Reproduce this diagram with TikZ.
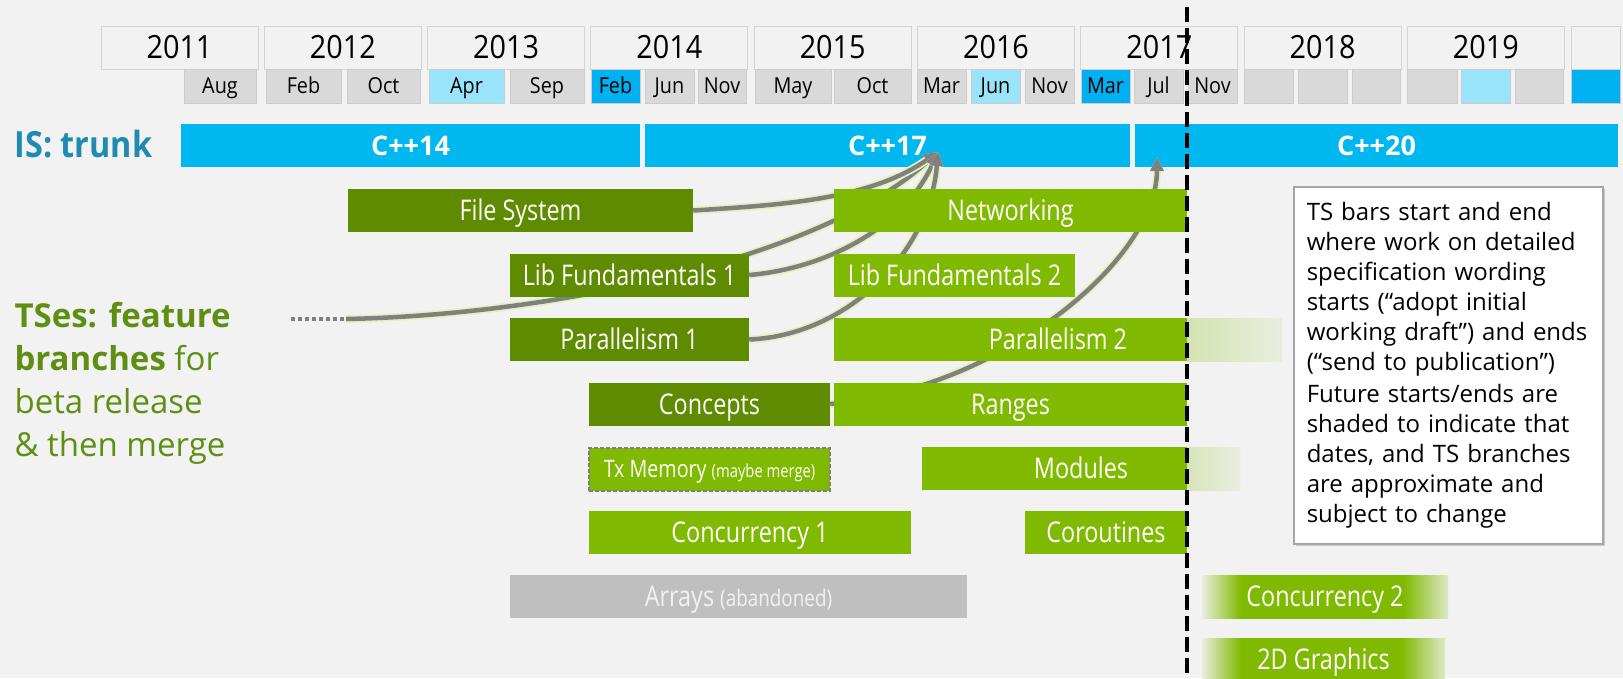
\documentclass[tikz,border=0pt]{standalone}
\usepackage{fontspec}
\setmainfont{Open Sans}
\newfontfamily\barfont[FakeStretch=0.82]{Open Sans}
\newfontfamily\yearfont[FakeStretch=0.9]{Open Sans}
\usetikzlibrary{arrows.meta}
\usetikzlibrary{shadows}

\definecolor{bgcol}{HTML}{F2F2F2}
\definecolor{trunkblue}{HTML}{00B7EF}
\definecolor{monthblue}{HTML}{00B0F0}
\definecolor{monthlite}{HTML}{99E4FA}
\definecolor{monthgray}{HTML}{D9D9D9}
\definecolor{darkgreen}{HTML}{5E8B00}
\definecolor{litegreen}{HTML}{80BA00}
\definecolor{abandongray}{HTML}{BFBFBF}
\definecolor{tstext}{HTML}{5F8F12}
\definecolor{istext}{HTML}{1F8BB0}
\definecolor{linkgray}{HTML}{808080}
\definecolor{glow}{HTML}{E6F2BE}
\colorlet{palegreen}{litegreen!8!bgcol}
\colorlet{fadegreen}{litegreen!18!bgcol}

\pgfdeclarehorizontalshading{bothfade}{100bp}{color(0bp)=(palegreen); color(25bp)=(palegreen);
  color(33bp)=(litegreen); color(66bp)=(litegreen); color(75bp)=(fadegreen); color(100bp)=(fadegreen)}

\pgfdeclarelayer{back}
\pgfdeclarelayer{links}
\pgfsetlayers{back,links,main}

\newcommand{\fsz}[2]{\fontsize{#1}{#2}\selectfont}

\tikzset{
  yearbox/.style={draw=black!17, fill=bgcol, line width=1, minimum width=157, minimum height=43, inner sep=0, text height=22.5, text depth=0, font=\yearfont\fsz{32}{36}},
  monthbox/.style={draw=black!20, line width=1, minimum height=34, inner sep=0, text height=15.5, text depth=0, font=\yearfont\fsz{22}{25}},
  trunkbar/.style={fill=trunkblue, minimum height=43, inner sep=0, text=white, text height=19, text depth=0, font=\bfseries\fsz{27}{30}},
  tsbar/.style={minimum height=43, inner sep=0, text=white, text height=20.5, text depth=0, font=\barfont\fsz{28.5}{34}},
  darkbar/.style={tsbar, fill=darkgreen},
  litebar/.style={tsbar, fill=litegreen},
  fadeR/.style={path picture={\shade[left color=litegreen, right color=palegreen] ([xshift=-#1]path picture bounding box.south east) rectangle (path picture bounding box.north east);}},
  fadebar/.style={tsbar, shade, shading=bothfade},
  link/.style={draw=linkgray, line width=4.5, -{Triangle[length=14pt,width=13pt]}, preaction={draw=glow, line width=8}},
  notebox/.style={draw=black!35, fill=white, line width=1.5, text width=283, inner xsep=13, inner ysep=0, minimum height=357, align=left, font=\fsz{24}{30}, drop shadow={shadow xshift=2pt, shadow yshift=-2pt, opacity=0.35}}
}

\begin{document}
\begin{tikzpicture}[x=1pt,y=-1pt]
	\begin{pgfonlayer}{back}
		\fill[bgcol] (0,0) rectangle (1623,678);
		\node[trunkbar, minimum width=459] (c14) at (410.5,145.5) {C++14};
		\node[trunkbar, minimum width=485] (c17) at (887.5,145.5) {C++17};
		\node[trunkbar, minimum width=483] (c20) at (1376.5,145.5) {C++20};
	\end{pgfonlayer}
	\useasboundingbox (0,0) rectangle (1623,678);
	
	\foreach \yr [count=\i from 0] in {2011,...,2019}
		\node[yearbox] (y\yr) at ({179.5+163.3*\i},47.5) {\yr};
	\node[yearbox, minimum width=49] (y2020) at (1595.5,47.5) {};
	\foreach \a/\b/\mo/\col [count=\i] in {184/256/Aug/monthgray, 266/341/Feb/monthgray, 347/420/Oct/monthgray,
			429/504/Apr/monthlite, 510/584/Sep/monthgray, 591/640/Feb/monthblue, 645/694/Jun/monthgray,
			698/746/Nov/monthgray, 755/831/May/monthgray, 834/911/Oct/monthgray, 917/966/Mar/monthgray,
			971/1020/Jun/monthlite, 1025/1074/Nov/monthgray, 1081/1130/Mar/monthblue, 1134/1183/Jul/monthgray,
			1188/1237/Nov/monthgray, 1244/1293//monthgray, 1298/1347//monthgray, 1352/1400//monthgray,
			1407/1457//monthgray, 1461/1510//monthlite, 1515/1563//monthgray, 1571/1620//monthblue}
		\node[monthbox, fill=\col, minimum width={\b-\a}] (mo\i) at ({(\a+\b)/2},86) {\mo};
	
	\node[anchor=base west, text=istext, font=\yearfont\bfseries\fsz{36}{40}] (trunk) at (11,157) {IS: trunk};
	\node[anchor=base west, align=left, text=tstext, font=\fsz{33}{43}] (tses) at (11,456)
		{\textbf{TSes: feature}\\\textbf{branches} for\\beta release\\\& then merge};
	
	\node[darkbar, minimum width=345] (fs) at (520.5,210.5) {File System};
	\node[darkbar, minimum width=239] (lf1) at (629.5,275) {Lib Fundamentals 1};
	\node[darkbar, minimum width=239] (par1) at (629.5,339.5) {Parallelism 1};
	\node[darkbar, minimum width=241] (con) at (709.5,404) {Concepts};
	\node[litebar, minimum width=353] (net) at (1010.5,210.5) {Networking};
	\node[litebar, minimum width=241] (lf2) at (954.5,275) {Lib Fundamentals 2};
	\node[litebar, fadeR=95, minimum width=448] (par2) at (1058,339.5) {Parallelism 2};
	\node[litebar, minimum width=353] (rng) at (1010.5,404) {Ranges};
	\node[litebar, draw=linkgray, line width=2, dash pattern=on 4pt off 2pt, minimum width=241, text height=17,
		font=\barfont\fsz{24}{28}] (tx) at (709.5,469) {Tx Memory {\fsz{18}{20}(maybe merge)}};
	\node[litebar, fadeR=53, minimum width=318] (mod) at (1081,468.5) {Modules};
	\node[litebar, minimum width=322] (cc1) at (750,532.5) {Concurrency 1};
	\node[litebar, minimum width=162] (cor) at (1106,532.5) {Coroutines};
	\node[tsbar, fill=abandongray, text=bgcol, minimum width=457] (arr) at (738.5,596.5) {Arrays {\fsz{23}{26}(abandoned)}};
	\node[fadebar, minimum width=246] (cc2) at (1325,596.5) {Concurrency 2};
	\node[fadebar, minimum width=243] (gfx) at (1323.5,659.5) {2D Graphics};
	
	\coordinate (m17) at (938,152);
	\coordinate (m20) at (1157,157);
	\coordinate (tsdot) at (291,319);
	\coordinate (tsend) at (346,319);
	\begin{pgfonlayer}{links}
		\draw[linkgray, line width=4, dash pattern=on 4pt off 3pt] (tsdot) -- (tsend);
		\draw[link] (tsend) .. controls (550,315) and (820,260) .. (m17);
		\draw[link] (fs.east) .. controls (780,205) and (870,200) .. (m17);
		\draw[link] (lf1.east) .. controls (830,268) and (905,225) .. (m17);
		\draw[link] (par1.east) .. controls (850,335) and (930,250) .. (m17);
		\draw[link] (con.east) .. controls (1000,390) and (1157,260) .. (m20);
	\end{pgfonlayer}
	
	\coordinate (nowtop) at (1187,7);
	\coordinate (nowbot) at (1187,682);
	\draw[black, line width=4, dash pattern=on 15pt off 6pt] (nowtop) -- (nowbot);
	
	\node[notebox, anchor=north west] (note) at (1293,186)
		{TS bars start and end\\where work on detailed\\specification wording\\starts (“adopt initial\\working draft”) and ends\\(“send to publication”)\\[2pt]
		Future starts/ends are\\shaded to indicate that\\dates, and TS branches\\are approximate and\\subject to change};
\end{tikzpicture}
\end{document}
